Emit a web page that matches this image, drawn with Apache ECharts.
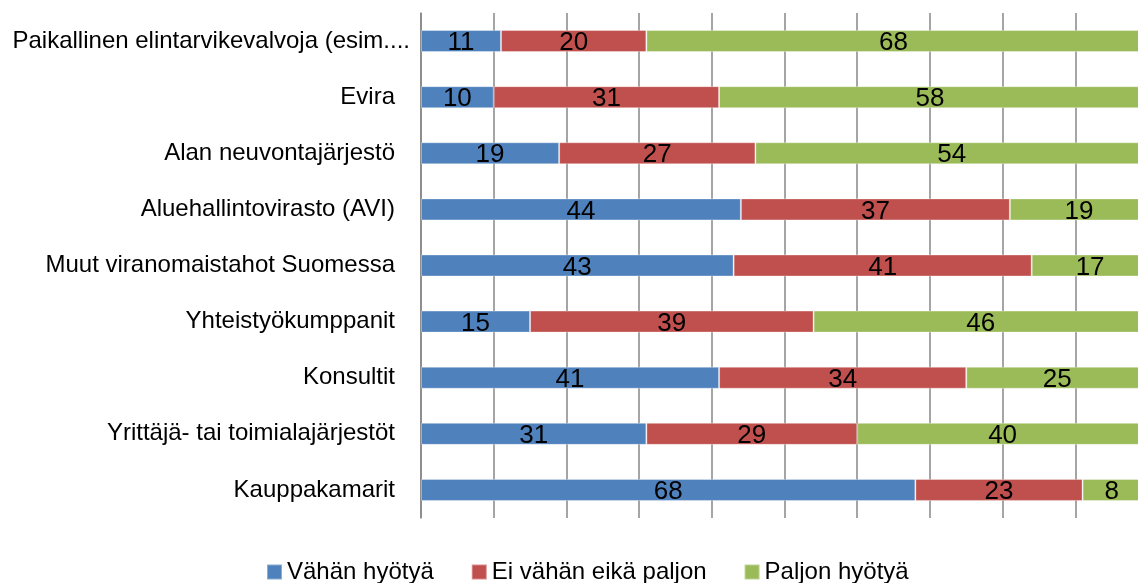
<!DOCTYPE html>
<html lang="fi">
<head>
    <meta charset="UTF-8">
    <title>Hyöty</title>
    <script src="https://cdn.jsdelivr.net/npm/echarts@6/dist/echarts.min.js"></script>
    <style>
        html, body { margin: 0; padding: 0; background: #fff; }
        #chart { width: 1138px; height: 583px; }
    </style>
</head>
<body>
<div id="chart"></div>
<script>

    var categories = [
        'Paikallinen elintarvikevalvoja (esim....',
        'Evira',
        'Alan neuvontajärjestö',
        'Aluehallintovirasto (AVI)',
        'Muut viranomaistahot Suomessa',
        'Yhteistyökumppanit',
        'Konsultit',
        'Yrittäjä- tai toimialajärjestöt',
        'Kauppakamarit'
    ];
    var vahan = [11, 10, 19, 44, 43, 15, 41, 31, 68];
    var eiVahan = [20, 31, 27, 37, 41, 39, 34, 29, 23];
    var paljon = [68, 58, 54, 19, 17, 46, 25, 40, 8];

    var seriesNames = ['Vähän hyötyä', 'Ei vähän eikä paljon', 'Paljon hyötyä'];
    var colors = ['#4F81BD', '#C0504D', '#9BBB59'];

    var font = '"Liberation Sans", Arial, sans-serif';

    var bar = function (name, data, color) {
        return {
            name: name,
            type: 'bar',
            stack: 'all',
            barWidth: 22,
            data: data,
            itemStyle: {
                color: color,
                borderColor: 'rgba(255,255,255,0.35)',
                borderWidth: 1
            },
            label: {
                show: true,
                position: 'inside',
                offset: [0, 2],
                color: '#000',
                fontFamily: font,
                fontSize: 26
            }
        };
    };

    var chart = echarts.init(document.getElementById('chart'));

    var option = {
        animation: false,
        backgroundColor: '#fff',
        color: colors,
        legend: {
            data: seriesNames,
            left: 261,
            top: 555,
            itemWidth: 15,
            itemHeight: 15,
            itemGap: 37,
            icon: 'rect',
            textStyle: {
                color: '#000',
                fontFamily: font,
                fontSize: 24
            }
        },
        grid: {
            left: 421,
            top: 13,
            width: 727,
            height: 505,
            outerBoundsMode: 'none'
        },
        xAxis: {
            type: 'value',
            min: 0,
            max: 100,
            interval: 10,
            axisLine: { show: false },
            axisTick: { show: false },
            axisLabel: { show: false },
            splitLine: {
                lineStyle: { color: '#878787', width: 1.5 }
            }
        },
        yAxis: {
            type: 'category',
            inverse: true,
            data: categories,
            axisLine: {
                lineStyle: { color: '#878787', width: 1.5 }
            },
            axisTick: {
                length: 8,
                lineStyle: { color: '#878787', width: 1.5 }
            },
            axisLabel: {
                margin: 26,
                color: '#000',
                fontFamily: font,
                fontSize: 24,
                formatter: function (v, i) {
                    return i === 0 ? '{first|' + v + '}' : v;
                },
                rich: {
                    first: {
                        fontFamily: font,
                        fontSize: 24,
                        color: '#000',
                        padding: [0, -15, 0, 0]
                    }
                }
            }
        },
        series: [
            bar(seriesNames[0], vahan, colors[0]),
            bar(seriesNames[1], eiVahan, colors[1]),
            bar(seriesNames[2], paljon, colors[2])
        ]
    };

    chart.setOption(option);

</script>
</body>
</html>
